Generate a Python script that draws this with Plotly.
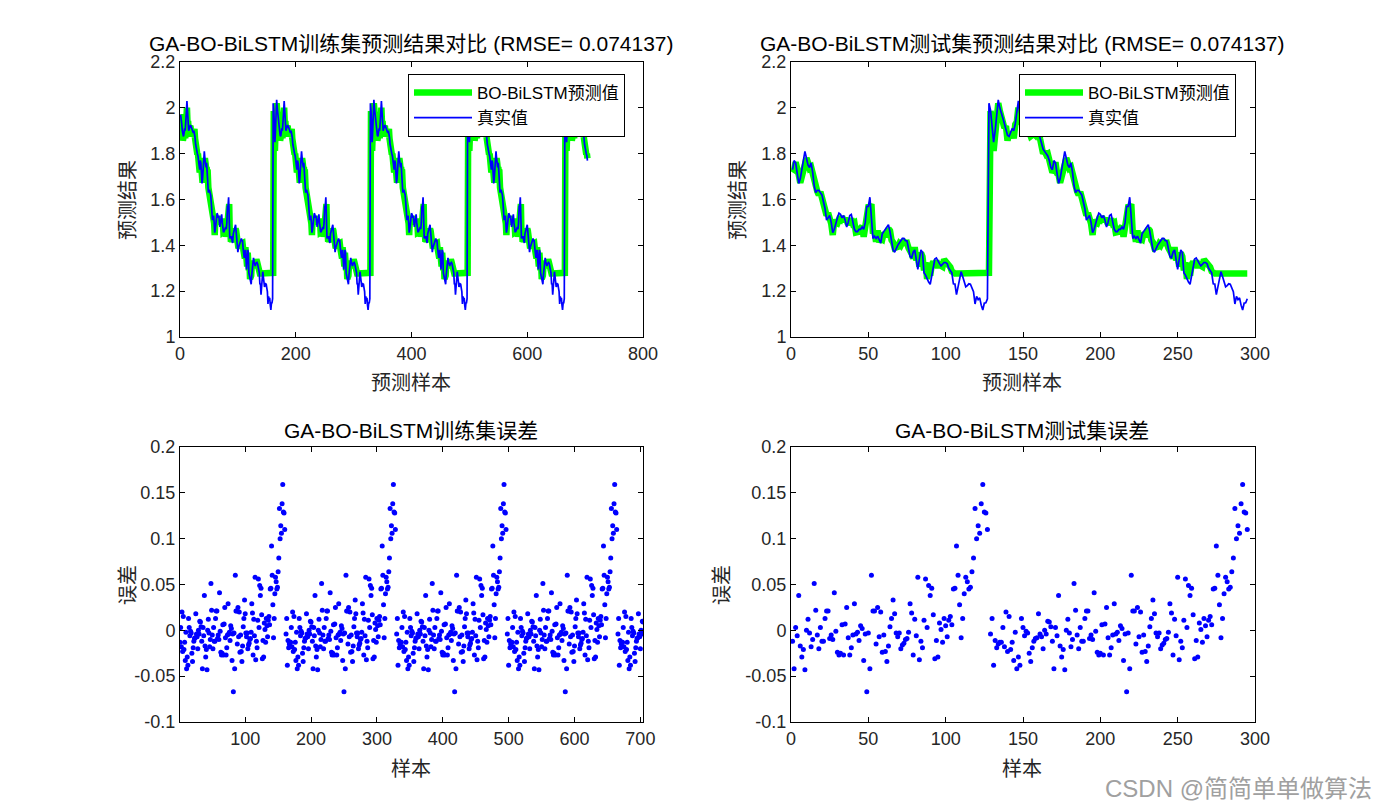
import numpy as np
import plotly.graph_objects as go

# one period of the signal (168 samples, starting at the jump)
cycle_true = [
    2.02, 1.99, 1.93, 1.85, 1.90, 1.98, 2.035, 2.00, 1.97, 1.955,
    1.93, 1.90, 1.88, 1.875, 1.89, 1.91, 1.90, 1.93, 1.98, 2.03,
    1.97, 1.93, 1.90, 1.91, 1.92, 1.925, 1.92, 1.91, 1.90, 1.90,
    1.89, 1.90, 1.89, 1.87, 1.84, 1.82, 1.81, 1.80, 1.79, 1.77,
    1.74, 1.73, 1.77, 1.76, 1.72, 1.67, 1.69, 1.73, 1.77, 1.81,
    1.78, 1.75, 1.74, 1.76, 1.72, 1.66, 1.63, 1.64, 1.64, 1.63,
    1.62, 1.59, 1.56, 1.51, 1.52, 1.53, 1.50, 1.455, 1.47, 1.50,
    1.52, 1.54, 1.535, 1.52, 1.53, 1.51, 1.48, 1.50, 1.53, 1.535,
    1.50, 1.47, 1.46, 1.46, 1.47, 1.47, 1.48, 1.47, 1.50, 1.57,
    1.57, 1.61, 1.52, 1.43, 1.44, 1.43, 1.44, 1.42, 1.41, 1.45,
    1.46, 1.47, 1.48, 1.49, 1.46, 1.41, 1.38, 1.37, 1.39, 1.40,
    1.41, 1.42, 1.43, 1.43, 1.42, 1.42, 1.39, 1.35, 1.345, 1.37,
    1.38, 1.34, 1.295, 1.34, 1.38, 1.37, 1.28, 1.27, 1.25, 1.24,
    1.23, 1.27, 1.31, 1.34, 1.345, 1.33, 1.32, 1.31, 1.32, 1.325,
    1.325, 1.32, 1.30, 1.29, 1.28, 1.232, 1.231, 1.185, 1.217, 1.249,
    1.285, 1.264, 1.237, 1.219, 1.224, 1.232, 1.230, 1.213, 1.198, 1.144,
    1.177, 1.163, 1.171, 1.139, 1.118, 1.148, 1.149, 1.167,
]

# prediction error (predicted - true) over the same period
cycle_err = [
    -0.74, -0.004, 0.013, -0.038, -0.011, -0.019, -0.015, -0.013, -0.013, 0.003,
    -0.018, 0.020, -0.023, 0.015, -0.021, -0.013, -0.033, -0.002, -0.042, -0.029,
    -0.038, 0.013, 0.003, -0.006, -0.001, -0.003, -0.025, -0.034, -0.019, -0.012,
    -0.009, -0.008, 0.018, -0.004, -0.007, -0.020, 0.000, -0.004, 0.010, 0.009,
    0.004, -0.012, -0.042, 0.003, -0.006, 0.038, -0.017, -0.029, -0.021, -0.043,
    0.000, 0.012, -0.003, -0.018, -0.010, 0.051, 0.022, -0.005, -0.020, 0.003,
    -0.012, -0.012, 0.013, 0.021, 0.021, -0.009, -0.005, -0.010, 0.041, -0.001,
    -0.024, -0.027, -0.025, 0.006, -0.027, 0.007, 0.025, -0.008, -0.027, -0.019,
    -0.005, 0.029, -0.004, -0.002, -0.011, 0.005, 0.002, -0.033, -0.004, -0.067,
    -0.003, -0.042, 0.060, 0.021, 0.021, -0.015, 0.025, -0.007, 0.020, -0.024,
    -0.005, -0.023, -0.034, -0.017, 0.004, 0.013, 0.033, 0.018, -0.003, -0.007,
    -0.003, -0.020, -0.016, -0.014, -0.010, -0.009, -0.002, 0.029, 0.019, -0.027,
    0.012, -0.006, 0.058, -0.032, -0.012, -0.019, 0.011, 0.056, 0.003, 0.049,
    0.038, 0.046, 0.017, -0.031, -0.011, -0.029, 0.008, 0.001, -0.013, 0.013,
    0.005, -0.007, 0.011, 0.015, 0.006, 0.045, 0.046, 0.092, 0.060, 0.028,
    -0.008, 0.013, 0.040, 0.058, 0.053, 0.045, 0.047, 0.064, 0.079, 0.133,
    0.100, 0.114, 0.106, 0.138, 0.159, 0.129, 0.128, 0.110,
]

train_offset = 8    # train set starts 8 samples into the period
train_tail = 40     # samples of the period after the last full one
test_offset = 41    # test set starts here

title_train = "GA-BO-BiLSTM训练集预测结果对比 (RMSE= 0.074137)"
title_test = "GA-BO-BiLSTM测试集预测结果对比 (RMSE= 0.074137)"
title_err_train = "GA-BO-BiLSTM训练集误差"
title_err_test = "GA-BO-BiLSTM测试集误差"
legend_pred = "BO-BiLSTM预测值"
legend_true = "真实值"

err_ticks = [-0.1, -0.05, 0, 0.05, 0.1, 0.15, 0.2]
err_tick_text = ["-0.1", "-0.05", "0", "0.05", "0.1", "0.15", "0.2"]
res_ticks = [1, 1.2, 1.4, 1.6, 1.8, 2, 2.2]
res_tick_text = ["1", "1.2", "1.4", "1.6", "1.8", "2", "2.2"]

# ---- assemble series ----
ct = np.array(cycle_true)
ce = np.array(cycle_err)
train_true = np.concatenate([ct[train_offset:], ct, ct, ct, ct[:train_tail]])
train_err = np.concatenate([ce[train_offset:], ce, ce, ce, ce[:train_tail]])
test_true = np.concatenate([ct[test_offset:], ct])
test_err = np.concatenate([ce[test_offset:], ce])
train_pred = train_true + train_err
test_pred = test_true + test_err
x_train = np.arange(1, len(train_true) + 1)
x_test = np.arange(1, len(test_true) + 1)

# page is 1387x812; the html body has an 8px margin, so the figure is a bit smaller
W, H = 1387, 812
PAD = 8
FW, FH = W - 2 * PAD, H - 2 * PAD
FONT = "Liberation Sans, Arial, Noto Sans CJK SC"
GREEN = "rgb(0,255,0)"
BLUE = "rgb(0,0,255)"
TICK_COLOR = "#262626"


def px_x(v):
    return (v - PAD) / FW


def px_y(v):
    return 1 - (v - PAD) / FH


# axes boxes in page pixels (left, right, top, bottom)
boxes = {
    "tl": (180, 643, 62, 337),
    "tr": (791, 1255, 62, 337),
    "bl": (180, 643, 447, 722),
    "br": (791, 1255, 447, 722),
}

fig = go.Figure()

fig.add_trace(go.Scatter(x=x_train, y=train_pred, mode="lines", name=legend_pred,
                         line=dict(color=GREEN, width=6.5), xaxis="x", yaxis="y", legend="legend"))
fig.add_trace(go.Scatter(x=x_train, y=train_true, mode="lines", name=legend_true,
                         line=dict(color=BLUE, width=1.7), xaxis="x", yaxis="y", legend="legend"))
fig.add_trace(go.Scatter(x=x_test, y=test_pred, mode="lines", name=legend_pred,
                         line=dict(color=GREEN, width=6.5), xaxis="x2", yaxis="y2", legend="legend2"))
fig.add_trace(go.Scatter(x=x_test, y=test_true, mode="lines", name=legend_true,
                         line=dict(color=BLUE, width=1.7), xaxis="x2", yaxis="y2", legend="legend2"))
fig.add_trace(go.Scatter(x=x_train, y=train_err, mode="markers", showlegend=False,
                         marker=dict(color=BLUE, size=5), xaxis="x3", yaxis="y3"))
fig.add_trace(go.Scatter(x=x_test, y=test_err, mode="markers", showlegend=False,
                         marker=dict(color=BLUE, size=5), xaxis="x4", yaxis="y4"))

axis_common = dict(showline=True, linecolor="black", linewidth=1, mirror="ticks",
                   ticks="inside", ticklen=5, tickcolor="black", showgrid=False,
                   zeroline=False, automargin=False,
                   tickfont=dict(family=FONT, size=18, color=TICK_COLOR))


def xdom(k):
    l, r, t, b = boxes[k]
    return [px_x(l), px_x(r)]


def ydom(k):
    l, r, t, b = boxes[k]
    return [px_y(b), px_y(t)]


legend_common = dict(xanchor="left", yanchor="top", bordercolor="black", borderwidth=1,
                     bgcolor="white", itemwidth=58, tracegroupgap=0,
                     font=dict(family=FONT, size=17, color="black"))

fig.update_layout(
    template="none",
    width=FW, height=FH,
    margin=dict(l=0, r=0, t=0, b=0, autoexpand=False),
    paper_bgcolor="white", plot_bgcolor="white",
    font=dict(family=FONT, color="black"),
    xaxis=dict(domain=xdom("tl"), anchor="y", range=[0, 800], tickvals=[0, 200, 400, 600, 800], **axis_common),
    yaxis=dict(domain=ydom("tl"), anchor="x", range=[1, 2.2], tickvals=res_ticks, ticktext=res_tick_text, **axis_common),
    xaxis2=dict(domain=xdom("tr"), anchor="y2", range=[0, 300], tickvals=[0, 50, 100, 150, 200, 250, 300], **axis_common),
    yaxis2=dict(domain=ydom("tr"), anchor="x2", range=[1, 2.2], tickvals=res_ticks, ticktext=res_tick_text, **axis_common),
    xaxis3=dict(domain=xdom("bl"), anchor="y3", range=[1, 704], tickvals=[100, 200, 300, 400, 500, 600, 700], **axis_common),
    yaxis3=dict(domain=ydom("bl"), anchor="x3", range=[-0.1, 0.2], tickvals=err_ticks, ticktext=err_tick_text, **axis_common),
    xaxis4=dict(domain=xdom("br"), anchor="y4", range=[0, 300], tickvals=[0, 50, 100, 150, 200, 250, 300], **axis_common),
    yaxis4=dict(domain=ydom("br"), anchor="x4", range=[-0.1, 0.2], tickvals=err_ticks, ticktext=err_tick_text, **axis_common),
    legend=dict(x=px_x(408), y=px_y(74), **legend_common),
    legend2=dict(x=px_x(1019), y=px_y(74), **legend_common),
    showlegend=True,
)

annotations = []


def text_at(x, y, text, size, angle=0, color="black"):
    annotations.append(dict(x=px_x(x), y=px_y(y), xref="paper", yref="paper", text=text,
                            showarrow=False, textangle=angle, xanchor="center", yanchor="middle",
                            font=dict(family=FONT, size=size, color=color)))


# titles
text_at(411, 43, title_train, 21)
text_at(1022, 43, title_test, 21)
text_at(411, 430, title_err_train, 21)
text_at(1022, 430, title_err_test, 21)
# axis labels
text_at(411, 383, "预测样本", 20, color=TICK_COLOR)
text_at(1022, 383, "预测样本", 20, color=TICK_COLOR)
text_at(411, 769, "样本", 20, color=TICK_COLOR)
text_at(1022, 769, "样本", 20, color=TICK_COLOR)
text_at(128, 200, "预测结果", 20, angle=-90, color=TICK_COLOR)
text_at(738, 200, "预测结果", 20, angle=-90, color=TICK_COLOR)
text_at(128, 585, "误差", 20, angle=-90, color=TICK_COLOR)
text_at(722, 585, "误差", 20, angle=-90, color=TICK_COLOR)
# watermark
text_at(1238, 788, "CSDN @简简单单做算法", 24, color="#a0a0a0")

fig.update_layout(annotations=annotations)

fig.write_html("out.html")
